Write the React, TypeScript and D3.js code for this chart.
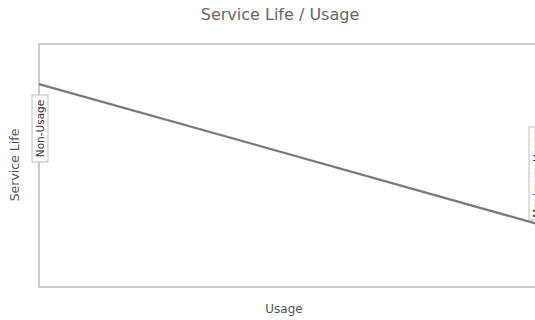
import React from "react";
import * as d3 from "d3";

const usage = [0, 100];
const serviceLife = [8.35, 2.6];
const title = "Service Life / Usage";
const xLabel = "Usage";
const yLabel = "Service Life";
const startLabel = "Non-Usage";
const endLabel = "Maximum-Usage";

export default function App() {
  const W = 535, H = 320;
  const m = { left: 39, top: 44, right: 537, bottom: 287 };
  const x = d3.scaleLinear().domain([0, 100]).range([m.left, m.right]);
  const y = d3.scaleLinear().domain([0, 10]).range([m.bottom, m.top]);
  const pts: [number, number][] = usage.map((u, i) => [u, serviceLife[i]]);
  const line = d3.line<[number, number]>().x(d => x(d[0])).y(d => y(d[1]));
  const font = "Verdana, 'DejaVu Sans', sans-serif";
  return (
    <svg width={W} height={H} style={{ position: "absolute", left: 0, top: 0, background: "#fff" }}>
      <text x={280} y={20} textAnchor="middle" fontFamily={font} fontSize={16} fill="#666">{title}</text>
      <rect x={m.left} y={m.top} width={m.right - m.left} height={m.bottom - m.top} fill="none" stroke="#bbb" strokeWidth={1.5} />
      <path d={line(pts) || ""} fill="none" stroke="#7a7a7a" strokeWidth={2.2} />
      <text x={284} y={313} textAnchor="middle" fontFamily={font} fontSize={12} fill="#555">{xLabel}</text>
      <text transform={`translate(19,165) rotate(-90)`} textAnchor="middle" fontFamily={font} fontSize={12.5} fill="#555">{yLabel}</text>
      <g transform={`translate(${m.left + 1},128.5) rotate(-90)`}>
        <rect x={-33.5} y={-8} width={67} height={16} fill="#fff" stroke="#bbb" strokeWidth={1} />
        <text x={0} y={4} textAnchor="middle" fontFamily={font} fontSize={10.5} fill="#333">{startLabel}</text>
      </g>
      <g transform={`translate(${m.right},173.5) rotate(-90)`}>
        <rect x={-46.5} y={-8} width={93} height={16} fill="#fff" stroke="#bbb" strokeWidth={1} />
        <text x={0} y={4} textAnchor="middle" fontFamily={font} fontSize={10.5} fill="#333">{endLabel}</text>
      </g>
    </svg>
  );
}
